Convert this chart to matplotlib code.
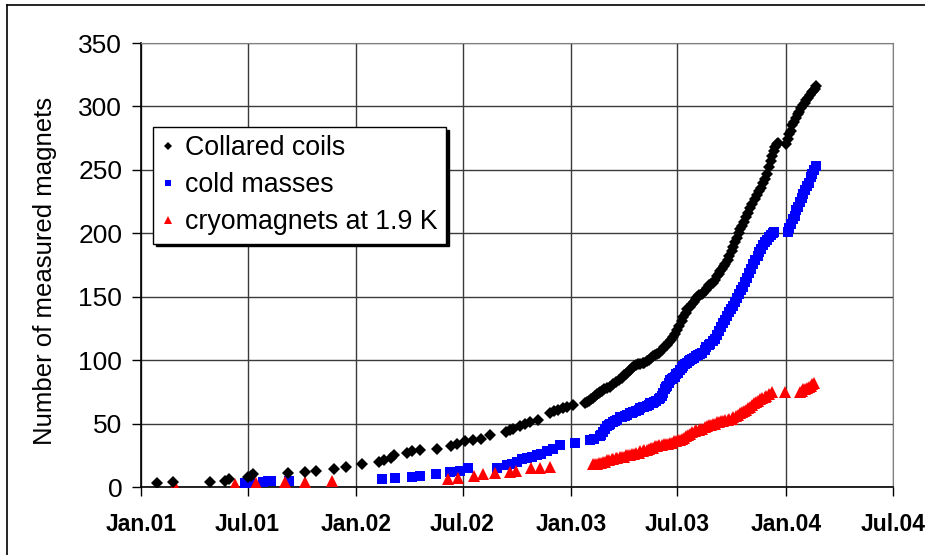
import numpy as np
import matplotlib
matplotlib.use("Agg")
import matplotlib.pyplot as plt
import matplotlib.dates as mdates
from matplotlib.lines import Line2D

plt.rcParams['font.family'] = ['Liberation Sans', 'DejaVu Sans']

# days counted from 1 Jan 2001, number of magnets measured by then
coils_day = [28, 55, 117, 143, 150, 182, 186, 191, 250, 278, 298, 327, 348, 375, 405, 412, 424, 430,
             452, 460, 474, 503, 527, 537, 550, 564, 578, 593, 620, 626, 632, 644, 652, 660, 675, 694,
             702, 709, 716, 723, 734,
             754, 757, 760, 764, 768, 771, 774, 777, 779, 783, 786, 791, 796, 801, 806, 811, 816, 820,
             823, 827, 830, 834, 837, 841, 844, 848, 852, 855, 859, 862, 866, 870, 873,
             876, 880, 884, 888, 893, 897, 900, 904, 907, 911, 914, 918, 921, 925, 928, 932, 935, 939,
             942, 945, 948, 952, 955, 959, 962, 965, 968, 972, 975, 978, 981, 984, 987, 990, 992, 996,
             999, 1003, 1006, 1009, 1012, 1015, 1017, 1021, 1024, 1028, 1031, 1035, 1038, 1042, 1046,
             1050, 1053, 1057, 1060, 1063, 1066, 1069, 1072, 1075, 1077, 1080, 1082,
             1095, 1098, 1100, 1103, 1106, 1109, 1112, 1115, 1118, 1121, 1124, 1127, 1130, 1133, 1136,
             1139, 1141, 1144, 1147]
coils_n = [3, 4, 4, 5, 6, 8, 9, 10, 11, 12, 13, 14, 16, 18, 20, 21, 23, 25,
           27, 28, 29, 30, 32, 34, 36, 37, 38, 41, 43, 45, 46, 48, 50, 51, 53, 58,
           60, 61, 62, 63, 65,
           66, 67, 68, 69, 70, 72, 73, 74, 75, 76, 77, 78, 79, 81, 83, 84, 86, 88,
           89, 91, 92, 94, 95, 96, 97, 97, 98, 98, 99, 100, 102, 103, 104,
           105, 106, 108, 110, 112, 114, 116, 118, 121, 124, 127, 131, 134, 137, 140, 142, 144, 146,
           148, 150, 151, 152, 153, 155, 157, 159, 160, 161, 163, 166, 168, 170, 172, 174, 176, 179,
           182, 186, 189, 193, 196, 200, 203, 206, 209, 213, 216, 220, 223, 227, 230,
           233, 236, 240, 243, 247, 252, 257, 261, 265, 268, 270, 271,
           270, 274, 278, 281, 285, 288, 291, 294, 296, 299, 301, 303, 305, 307, 309,
           311, 312, 314, 316]

masses_day = [177, 185, 208, 215, 220, 252, 409, 431, 460, 473, 501, 525, 542, 556, 604, 621, 630,
              638, 647, 655, 664, 672, 680, 689, 700, 711, 737, 762, 770,
              779, 782, 785, 788, 791, 794, 797, 801, 805, 809, 813, 817, 822, 826, 830, 833, 836,
              840, 845, 848, 852, 855, 859, 862, 865, 869, 872, 875, 879, 882, 884, 887, 889, 891,
              893, 896, 898, 901, 904, 906, 909, 912, 915, 918, 921, 924, 927, 930, 932, 936, 939,
              943, 946, 950, 953, 957, 960, 964, 967, 971, 975, 978, 982, 985, 989, 992, 995, 999,
              1002, 1006, 1009, 1012, 1016, 1019, 1022, 1026, 1029, 1033, 1036, 1040, 1043, 1047,
              1050, 1053, 1056, 1060, 1063, 1067, 1070, 1073, 1075,
              1098, 1101, 1104, 1107, 1110, 1113, 1116, 1119, 1122, 1125, 1128, 1131, 1134, 1137,
              1140, 1143, 1146]
masses_n = [3, 3, 4, 5, 5, 5, 6, 7, 8, 9, 10, 12, 13, 15, 15, 17, 18,
            20, 22, 23, 24, 25, 26, 28, 30, 33, 35, 37, 38,
            40, 41, 43, 46, 48, 49, 50, 51, 52, 53, 55, 55, 56, 57, 58, 58, 59,
            60, 61, 62, 63, 63, 64, 65, 66, 66, 67, 68, 69, 70, 72, 74, 77, 79,
            80, 82, 84, 85, 86, 87, 89, 90, 92, 94, 95, 97, 98, 99, 100, 101, 102,
            103, 104, 105, 106, 108, 110, 112, 113, 115, 117, 120, 123, 126, 129, 132, 135, 138,
            140, 143, 146, 149, 152, 155, 158, 162, 165, 169, 172, 176, 179, 182,
            185, 188, 191, 193, 195, 197, 199, 200, 201,
            201, 204, 207, 211, 214, 218, 221, 225, 228, 231, 234, 237, 240, 244,
            247, 250, 253]

cryo_day = [57, 160, 196, 245, 278, 324, 522, 538, 565, 580, 601, 627, 637, 663, 677, 694,
            767, 771, 775, 778, 781, 785, 788, 792, 795, 799, 802, 806, 809, 813, 816, 820, 823,
            827, 830, 834, 838, 841, 845, 848, 852, 855, 859, 862, 866, 869, 873, 876, 880, 884,
            888, 891, 895, 898, 901, 905, 908, 912, 915, 919, 922, 926, 929, 933, 936, 940, 943,
            947, 950, 953, 957, 961, 964, 968, 971, 975, 978, 982, 985, 989, 992, 996, 999, 1003,
            1006, 1010, 1013, 1017, 1020, 1024, 1027, 1031, 1034, 1038, 1041, 1045, 1048, 1052,
            1055, 1059, 1062, 1066, 1071,
            1094,
            1119, 1122, 1125, 1128, 1131, 1134, 1137, 1140, 1143]
cryo_n = [1, 2, 3, 4, 4, 5, 6, 7, 9, 10, 11, 12, 13, 15, 15, 16,
          18, 18, 18, 19, 19, 20, 20, 21, 21, 22, 22, 23, 23, 24, 24, 24, 25,
          25, 25, 26, 26, 27, 27, 28, 28, 29, 29, 30, 31, 31, 32, 32, 33, 33,
          34, 34, 34, 35, 35, 36, 36, 37, 37, 38, 39, 40, 41, 42, 43, 44, 45,
          45, 46, 46, 47, 48, 49, 49, 50, 50, 51, 51, 52, 52, 53, 53, 54, 54,
          55, 56, 57, 58, 59, 60, 61, 62, 63, 65, 66, 67, 68, 69,
          70, 71, 72, 73, 75,
          75,
          75, 76, 77, 77, 78, 79, 80, 81, 82]

series_names = ['Collared coils', 'cold masses', 'cryomagnets at 1.9 K']

t0 = mdates.date2num(np.datetime64('2001-01-01'))

fig = plt.figure(figsize=(9.25, 5.55), dpi=100)
ax = fig.add_axes([0.1524, 0.1225, 0.8130, 0.8000])

ax.plot(t0 + np.array(coils_day), coils_n, 'D', color='black', ms=5.9, mew=0, zorder=4)
ax.plot(t0 + np.array(masses_day), masses_n, 's', color='#0000ff', ms=7.0, mew=0, zorder=3)
ax.plot(t0 + np.array(cryo_day), cryo_n, '^', color='#ff0000', ms=8.0, mew=0, zorder=3)

ax.set_xlim(mdates.date2num(np.datetime64('2001-01-01')), mdates.date2num(np.datetime64('2004-07-01')))
ax.set_ylim(0, 350)
ax.set_yticks(range(0, 351, 50))
ax.xaxis.set_major_locator(mdates.MonthLocator(bymonth=[1, 7]))
ax.xaxis.set_major_formatter(mdates.DateFormatter('%b.%y'))

ax.grid(True, color='#3a3a3a', lw=1)
ax.set_axisbelow(True)
for s in ['top', 'right']:
    ax.spines[s].set_color('#808080')
for s in ['left', 'bottom']:
    ax.spines[s].set_color('black')
    ax.spines[s].set_linewidth(1.2)

ax.tick_params(axis='y', direction='out', length=6.5, width=1, labelsize=19, pad=7)
ax.tick_params(axis='x', direction='out', length=6.5, width=1, labelsize=16.5, pad=12)
for lbl in ax.get_xticklabels():
    lbl.set_fontweight('bold')

ax.set_ylabel('Number of measured magnets', fontsize=18.5)
ax.yaxis.set_label_coords(-0.112, 0.487)

handles = [Line2D([], [], ls='none', marker='D', color='black', ms=4.2, mew=0),
           Line2D([], [], ls='none', marker='s', color='#0000ff', ms=4.8, mew=0),
           Line2D([], [], ls='none', marker='^', color='#ff0000', ms=6, mew=0)]
leg = ax.legend(handles, series_names, loc='upper left', bbox_to_anchor=(0.016, 0.811),
                fontsize=19.3, frameon=True, fancybox=False, framealpha=1,
                shadow={'color': 'black', 'alpha': 1},
                handlelength=0.5, handletextpad=0.4, borderpad=0.3, labelspacing=0.42,
                borderaxespad=0)
leg.get_frame().set_edgecolor('black')
leg.get_frame().set_linewidth(1)

# outer frame around the chart
fig.add_artist(Line2D([7 / 925, 1], [1 - 5 / 555, 1 - 5 / 555], color='black', lw=1.2,
                      transform=fig.transFigure))
fig.add_artist(Line2D([7 / 925, 7 / 925], [0, 1 - 5 / 555], color='black', lw=1.2,
                      transform=fig.transFigure))

fig.savefig('out.png', dpi=100)
